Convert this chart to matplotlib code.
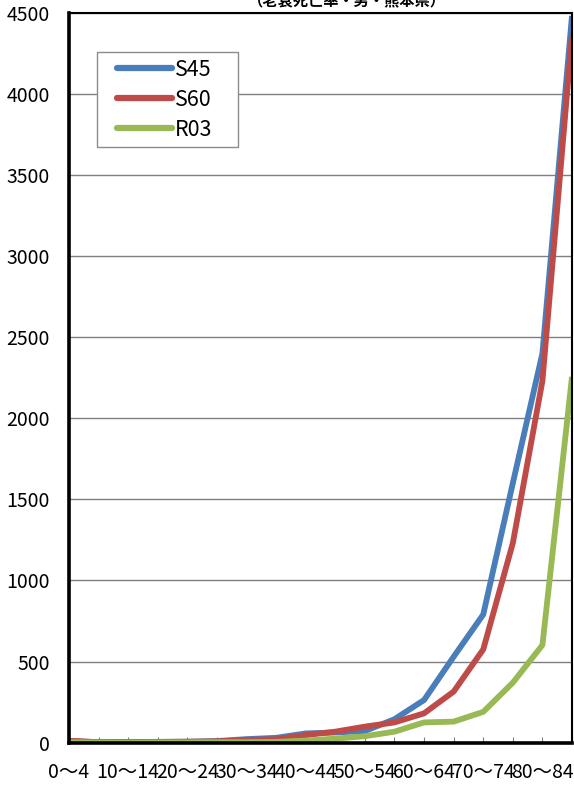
import numpy as np
import matplotlib
matplotlib.use("Agg")
import matplotlib.pyplot as plt
from matplotlib.patches import Rectangle

plt.rcParams['font.family'] = ['Noto Sans CJK JP', 'DejaVu Sans']

# 年齢階級
age_groups = ["0～4", "5～9", "10～14", "15～19", "20～24", "25～29", "30～34",
              "35～39", "40～44", "45～49", "50～54", "55～59", "60～64",
              "65～69", "70～74", "75～79", "80～84", "85～"]

s45 = [10, 3, 4, 5, 6, 10, 22, 30, 57, 63, 72, 145, 263, 530, 790, 1600, 2400, 4480]
s60 = [12, 3, 4, 5, 6, 8, 17, 21, 47, 68, 99, 125, 181, 315, 575, 1230, 2230, 4360]
r03 = [3, 1, 1, 2, 2, 3, 3, 5, 13, 25, 40, 68, 125, 130, 190, 370, 602, 2255]

series = [("S45", s45, "#4A7EBB"), ("S60", s60, "#BE4B48"), ("R03", r03, "#98B954")]

W, H = 574, 785
fig = plt.figure(figsize=(W / 100, H / 100), dpi=100)
ax = fig.add_axes([69 / W, 1 - 742.7 / H, (572 - 69) / W, (742.7 - 12.7) / H])

x = np.arange(len(age_groups))
for name, vals, col in series:
    ax.plot(x, vals, color=col, lw=4.2, label=name, solid_capstyle='butt')

ax.set_xlim(0, len(age_groups) - 1)
ax.set_ylim(0, 4500)
ax.set_yticks(np.arange(0, 4501, 500))
ax.yaxis.grid(True, color="#7f7f7f", lw=1)
ax.set_axisbelow(True)
ax.tick_params(axis='y', length=0, pad=14, labelsize=14)

# ラベルは1つおき
ax.set_xticks(x)
ax.set_xticklabels([lab if i % 2 == 0 else "" for i, lab in enumerate(age_groups)])
ax.tick_params(axis='x', direction='in', length=4, color="#7f7f7f", pad=14, labelsize=14)

for side in ["left", "bottom"]:
    ax.spines[side].set_linewidth(2.6)
for side in ["top", "right"]:
    ax.spines[side].set_linewidth(1.5)

# 凡例（枠は別に描く）
box = Rectangle((97 / W, 1 - 147 / H), (238 - 97) / W, (147 - 52) / H,
                transform=fig.transFigure, facecolor='white',
                edgecolor="#8c8c8c", lw=1.0, zorder=4, clip_on=False)
ax.add_patch(box)
leg = ax.legend(loc='upper left', bbox_to_anchor=(117 / W, 1 - 59 / H),
                bbox_transform=fig.transFigure, frameon=False,
                fontsize=15.5, handlelength=2.55, labelspacing=0.37,
                borderpad=0, handletextpad=0.15, borderaxespad=0)
leg.set_zorder(6)
for line in leg.get_lines():
    line.set_linewidth(4.5)
    line.set_solid_capstyle('round')

fig.text(347 / W, 1 - 8 / H, "（老衰死亡率・男・熊本県）", ha='center', va='bottom',
         fontsize=11, fontweight='bold')

fig.savefig("out.png", dpi=100)
